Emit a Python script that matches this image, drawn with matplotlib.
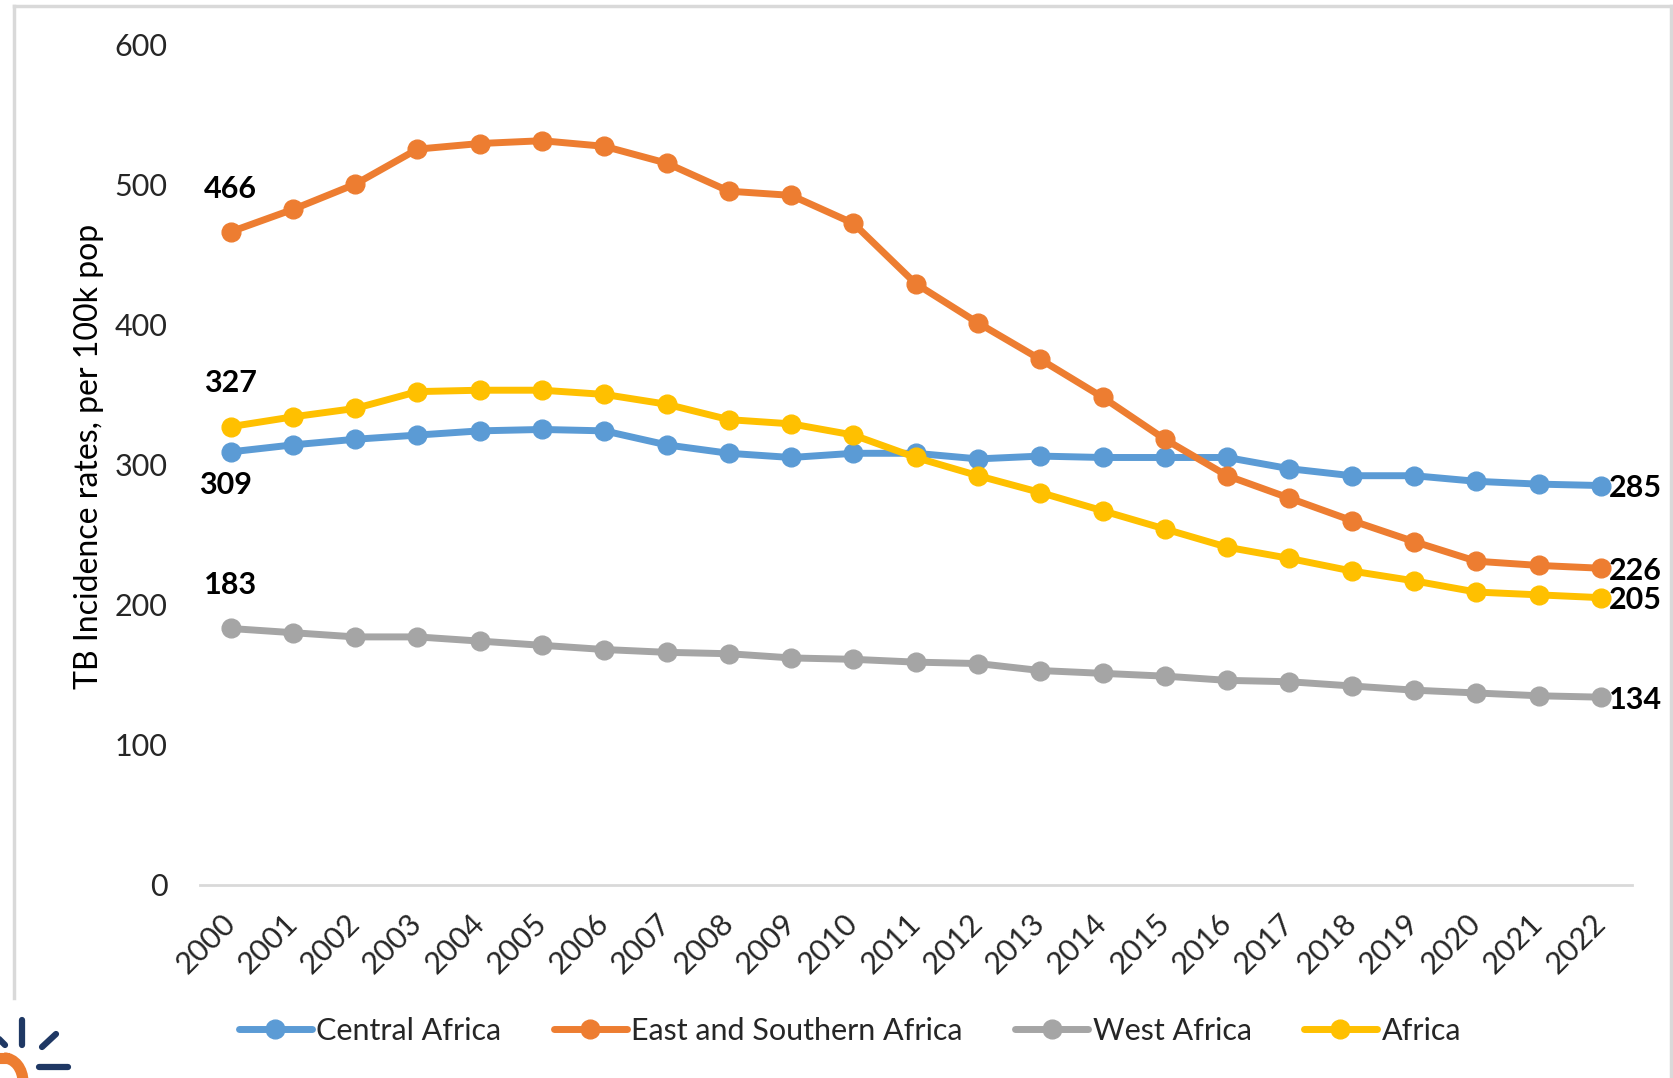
import numpy as np
import matplotlib
matplotlib.use('Agg')
import matplotlib.pyplot as plt
from matplotlib.lines import Line2D
from matplotlib.patches import Arc

plt.rcParams['font.family'] = ['Lato', 'DejaVu Sans']

# TB incidence per 100k population, 2000-2022
years = [str(y) for y in range(2000, 2023)]
central = [309, 314, 318, 321, 324, 325, 324, 314, 308, 305, 308, 308,
           304, 306, 305, 305, 305, 297, 292, 292, 288, 286, 285]
east_south = [466, 482, 500, 525, 529, 531, 527, 515, 495, 492, 472, 429,
              401, 375, 348, 318, 292, 276, 260, 245, 231, 228, 226]
west = [183, 180, 177, 177, 174, 171, 168, 166, 165, 162, 161, 159,
        158, 153, 151, 149, 146, 145, 142, 139, 137, 135, 134]
africa = [327, 334, 340, 352, 353, 353, 350, 343, 332, 329, 321, 305,
          292, 280, 267, 254, 241, 233, 224, 217, 209, 207, 205]

series = [
	('Central Africa', central, '#5B9BD5'),
	('East and Southern Africa', east_south, '#ED7D31'),
	('West Africa', west, '#A5A5A5'),
	('Africa', africa, '#FFC000'),
]

W, H = 1673, 1078
fig = plt.figure(figsize=(W / 100, H / 100), dpi=100)
ax = fig.add_axes([199.5 / W, 1 - 885 / H, (1632 - 199.5) / W, (885 - 44) / H])

x = np.arange(len(years))
for name, vals, col in series:
	ax.plot(x, vals, color=col, lw=5, marker='o', ms=13.5, label=name,
	        solid_capstyle='round', zorder=3)

ax.set_xlim(-0.5, len(years) - 0.5)
ax.set_ylim(0, 600)
ax.set_yticks(range(0, 601, 100))
ax.set_xticks(x)
ax.set_xticklabels(years, rotation=45, ha='right', va='center',
                   rotation_mode='anchor', fontsize=22, color='#262626')
ax.tick_params(axis='x', length=0, pad=24)
ax.tick_params(axis='y', length=0, pad=23, labelsize=22, labelcolor='#262626')

for side in ['top', 'right', 'left']:
	ax.spines[side].set_visible(False)
ax.spines['bottom'].set_color('#D9D9D9')
ax.spines['bottom'].set_linewidth(2)

ax.set_ylabel('TB Incidence rates, per 100k pop', fontsize=23, color='#000000')
ax.yaxis.set_label_coords(-0.067, 0.509)

# start/end value labels
lab = dict(fontsize=22, fontweight='bold', color='#000000')
ax.annotate(str(east_south[0]), (0, east_south[0]), xytext=(0, 21),
            textcoords='offset points', ha='center', va='bottom', **lab)
ax.annotate(str(africa[0]), (0, africa[0]), xytext=(0, 21),
            textcoords='offset points', ha='center', va='bottom', **lab)
ax.annotate(str(central[0]), (0, central[0]), xytext=(-4, -14),
            textcoords='offset points', ha='center', va='top', **lab)
ax.annotate(str(west[0]), (0, west[0]), xytext=(0, 21),
            textcoords='offset points', ha='center', va='bottom', **lab)
last = len(years) - 1
for vals in [central, east_south, africa, west]:
	ax.annotate(str(vals[-1]), (last, vals[-1]), xytext=(6, -2),
	            textcoords='offset points', ha='left', va='center', **lab)

fig.legend(loc='center', bbox_to_anchor=(0.508, 0.0436), ncol=4,
           frameon=False, fontsize=22, handlelength=2.4, handletextpad=0.15,
           columnspacing=1.7, labelcolor='#262626')

# outer frame
fc = '#D9D9D9'
fig.add_artist(Line2D([14 / W, 1], [1 - 6 / H, 1 - 6 / H], color=fc, lw=2.5))
fig.add_artist(Line2D([14 / W, 14 / W], [1 - 6 / H, 1 - 998 / H], color=fc, lw=2.5))
fig.add_artist(Line2D([1671 / W, 1671 / W], [1 - 6 / H, 0], color=fc, lw=2.5))

# corner logo
navy = '#1F3864'
rays = [((22, 1020), (22, 1045)), ((42, 1047), (56, 1034)),
        ((39, 1067), (68, 1067)), ((-4, 1036), (5, 1045))]
for (x0, y0), (x1, y1) in rays:
	fig.add_artist(Line2D([x0 / W, x1 / W], [1 - y0 / H, 1 - y1 / H],
	                      color=navy, lw=4.5, solid_capstyle='round'))
orange = '#ED7D31'
fig.add_artist(Arc((4 / W, 1 - 1082 / H), 38 / W, 48 / H, theta1=0, theta2=90,
                   color=orange, lw=8, transform=fig.transFigure))
fig.add_artist(Line2D([0, 4 / W], [1 - 1058 / H, 1 - 1058 / H],
                      color=orange, lw=8))

fig.savefig('out.png', dpi=100, facecolor='white')
